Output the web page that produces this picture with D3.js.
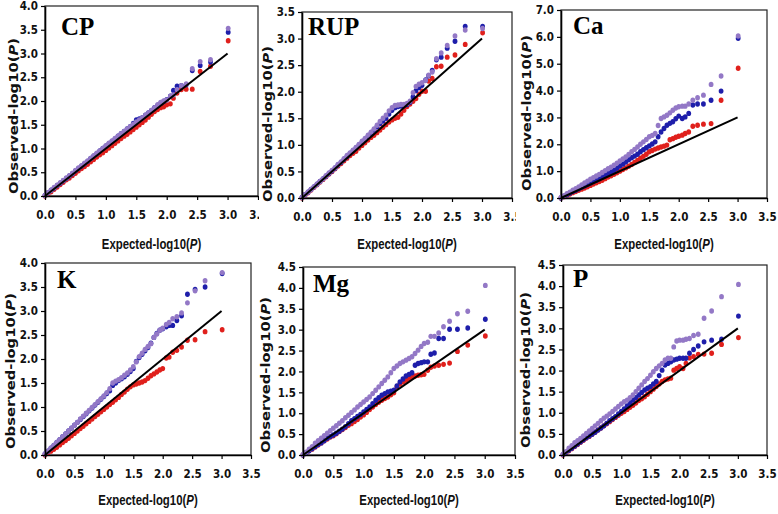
<!DOCTYPE html>
<html>
<head>
<meta charset="utf-8">
<script src="https://cdn.jsdelivr.net/npm/d3@7"></script>
<style>
  body { margin: 0; background: #fff; }
  .tick text { font-family: "Liberation Sans Narrow", "DejaVu Sans Condensed", sans-serif; font-weight: bold; font-size: 11.5px; fill: #111; }
</style>
</head>
<body>
<svg id="chart" width="778" height="514"></svg>
<script>
// expected -log10(P), shared by every panel (dense part then the tail)
var expected = [0.00,0.05,0.10,0.15,0.20,0.25,0.30,0.35,0.40,0.45,
                0.50,0.55,0.60,0.65,0.70,0.75,0.80,0.85,0.90,0.95,
                1.00,1.05,1.10,1.15,1.20,1.25,1.30,1.35,1.40,1.45,
                1.50,1.55,1.60,1.65,1.70,1.75,1.80,1.85,1.90,1.95,
                2.00,2.06,2.11,2.17,2.24,2.32,2.42,2.55,2.72,3.01]
var refLine = [0, 3.0]
var xTicks = [0,0.5,1,1.5,2,2.5,3,3.5]

var cpRed = [0.00,0.04,0.09,0.14,0.19,0.24,0.29,0.34,0.38,0.43,
             0.48,0.53,0.58,0.62,0.67,0.72,0.77,0.82,0.87,0.91,
             0.96,1.01,1.06,1.11,1.16,1.21,1.26,1.30,1.35,1.40,
             1.45,1.50,1.55,1.60,1.66,1.72,1.78,1.82,1.86,1.88,
             1.92,1.94,2.06,2.17,2.24,2.25,2.25,2.62,2.73,3.27]
var cpBlue = [0.01,0.07,0.12,0.17,0.22,0.27,0.32,0.37,0.42,0.47,
              0.53,0.58,0.63,0.68,0.73,0.79,0.84,0.89,0.95,1.00,
              1.05,1.10,1.15,1.20,1.26,1.31,1.36,1.41,1.46,1.53,
              1.60,1.62,1.65,1.70,1.75,1.80,1.86,1.90,1.95,1.99,
              2.03,2.10,2.22,2.31,2.32,2.34,2.64,2.75,2.82,3.45]
var cpPurple = [0.01,0.07,0.12,0.18,0.23,0.28,0.33,0.38,0.43,0.48,
                0.54,0.59,0.64,0.69,0.74,0.79,0.85,0.90,0.95,1.00,
                1.06,1.11,1.16,1.21,1.26,1.31,1.36,1.41,1.46,1.51,
                1.56,1.60,1.65,1.70,1.75,1.80,1.86,1.92,1.97,2.00,
                2.02,2.10,2.13,2.24,2.32,2.36,2.68,2.83,2.87,3.53]

var rupRed = [0.00,0.05,0.10,0.15,0.20,0.25,0.30,0.35,0.40,0.45,
              0.50,0.55,0.60,0.65,0.70,0.75,0.80,0.84,0.88,0.94,
              0.99,1.04,1.09,1.14,1.18,1.23,1.28,1.33,1.38,1.43,
              1.47,1.50,1.52,1.58,1.65,1.72,1.77,1.82,1.87,1.95,
              2.01,2.01,2.20,2.25,2.47,2.48,2.65,2.69,2.89,3.11]
var rupBlue = [0.01,0.06,0.11,0.16,0.21,0.26,0.31,0.36,0.41,0.46,
               0.51,0.56,0.62,0.67,0.73,0.78,0.84,0.89,0.94,1.00,
               1.05,1.10,1.16,1.22,1.28,1.34,1.40,1.45,1.50,1.58,
               1.65,1.70,1.72,1.73,1.74,1.76,1.80,1.90,2.02,2.08,
               2.12,2.22,2.30,2.40,2.60,2.65,2.82,2.95,3.23,3.23]
var rupPurple = [0.01,0.06,0.11,0.16,0.21,0.26,0.31,0.36,0.42,0.47,
                 0.52,0.57,0.63,0.68,0.74,0.80,0.85,0.90,0.95,1.01,
                 1.07,1.12,1.18,1.24,1.30,1.37,1.44,1.50,1.56,1.64,
                 1.70,1.74,1.75,1.76,1.76,1.78,1.82,1.98,2.10,2.14,
                 2.17,2.21,2.31,2.37,2.62,2.73,2.87,3.05,3.16,3.19]

var caRed = [0.00,0.05,0.10,0.15,0.20,0.24,0.29,0.33,0.37,0.42,
             0.47,0.52,0.57,0.61,0.66,0.72,0.78,0.83,0.88,0.94,
             1.00,1.06,1.12,1.18,1.25,1.32,1.40,1.48,1.55,1.63,
             1.72,1.77,1.82,1.86,1.90,1.93,1.97,2.17,2.21,2.26,
             2.30,2.34,2.40,2.46,2.67,2.71,2.75,2.77,3.64,4.83]
var caBlue = [0.00,0.06,0.12,0.18,0.24,0.29,0.34,0.40,0.45,0.50,
              0.56,0.61,0.66,0.72,0.78,0.84,0.91,0.97,1.03,1.11,
              1.19,1.26,1.34,1.42,1.50,1.56,1.63,1.72,1.80,1.87,
              1.94,2.01,2.09,2.28,2.46,2.59,2.71,2.78,2.84,2.95,
              3.05,2.96,3.02,3.15,3.46,3.50,3.50,3.64,3.98,5.95]
var caPurple = [0.02,0.09,0.16,0.22,0.29,0.35,0.41,0.49,0.56,0.63,
                0.70,0.76,0.82,0.88,0.95,1.02,1.09,1.15,1.22,1.30,
                1.38,1.45,1.53,1.62,1.72,1.81,1.90,2.00,2.09,2.18,
                2.28,2.33,2.40,2.70,2.96,3.02,3.08,3.17,3.27,3.35,
                3.40,3.42,3.42,3.50,3.64,3.73,3.83,4.23,4.54,6.03]

var kRed = [0.00,0.04,0.08,0.12,0.16,0.21,0.26,0.30,0.35,0.40,
            0.45,0.50,0.55,0.60,0.65,0.70,0.75,0.80,0.85,0.90,
            0.95,1.00,1.05,1.10,1.15,1.20,1.26,1.31,1.37,1.42,
            1.46,1.48,1.50,1.52,1.55,1.60,1.65,1.69,1.73,1.77,
            1.80,2.02,2.04,2.14,2.18,2.25,2.39,2.40,2.57,2.61]
var kBlue = [0.02,0.08,0.14,0.20,0.26,0.32,0.38,0.44,0.50,0.56,
             0.62,0.68,0.74,0.80,0.86,0.92,0.98,1.04,1.10,1.16,
             1.22,1.28,1.34,1.45,1.50,1.55,1.59,1.63,1.68,1.74,
             1.80,1.95,2.03,2.10,2.17,2.24,2.33,2.45,2.53,2.60,
             2.63,2.67,2.70,2.70,2.80,2.90,3.35,3.45,3.50,3.78]
var kPurple = [0.02,0.08,0.14,0.20,0.26,0.32,0.38,0.44,0.50,0.56,
               0.62,0.68,0.75,0.81,0.87,0.93,0.99,1.05,1.11,1.17,
               1.23,1.30,1.38,1.50,1.54,1.57,1.61,1.66,1.71,1.77,
               1.84,1.94,2.05,2.12,2.20,2.26,2.32,2.45,2.52,2.60,
               2.64,2.72,2.76,2.84,2.88,2.96,3.17,3.42,3.63,3.80]

var mgRed = [0.00,0.05,0.10,0.14,0.19,0.24,0.29,0.34,0.38,0.43,
             0.46,0.51,0.56,0.61,0.66,0.71,0.75,0.80,0.85,0.91,
             0.96,1.02,1.09,1.15,1.21,1.26,1.31,1.35,1.39,1.44,
             1.49,1.63,1.70,1.75,1.79,1.83,1.87,1.89,1.91,1.92,
             1.93,2.03,2.10,2.13,2.15,2.17,2.20,2.48,2.63,2.85]
var mgBlue = [0.00,0.05,0.10,0.15,0.20,0.25,0.29,0.34,0.40,0.44,
              0.48,0.52,0.57,0.62,0.68,0.75,0.82,0.87,0.92,0.97,
              1.03,1.09,1.15,1.23,1.31,1.37,1.43,1.47,1.51,1.53,
              1.55,1.65,1.75,1.82,1.89,1.93,1.97,2.15,2.19,2.21,
              2.23,2.23,2.41,2.44,2.79,2.79,3.01,3.01,3.04,3.25]
var mgPurple = [0.01,0.07,0.14,0.20,0.28,0.34,0.40,0.46,0.52,0.58,
                0.64,0.70,0.76,0.82,0.89,0.95,1.02,1.08,1.15,1.21,
                1.27,1.33,1.39,1.47,1.55,1.63,1.71,1.79,1.87,1.97,
                2.07,2.13,2.19,2.23,2.27,2.31,2.35,2.43,2.51,2.60,
                2.67,2.70,2.84,2.84,2.92,3.07,3.20,3.38,3.44,4.06]

var pRed = [0.00,0.05,0.10,0.15,0.20,0.25,0.30,0.35,0.40,0.44,
            0.49,0.54,0.59,0.64,0.69,0.74,0.79,0.84,0.89,0.94,
            0.99,1.03,1.08,1.13,1.18,1.23,1.29,1.33,1.38,1.44,
            1.50,1.56,1.62,1.68,1.74,1.78,1.80,1.82,2.01,2.05,
            2.09,2.05,2.17,2.30,2.33,2.38,2.39,2.41,2.62,2.78]
var pBlue = [0.01,0.06,0.11,0.16,0.21,0.26,0.31,0.36,0.41,0.45,
             0.49,0.54,0.59,0.64,0.69,0.75,0.81,0.86,0.91,0.97,
             1.03,1.09,1.16,1.23,1.30,1.36,1.42,1.48,1.54,1.58,
             1.62,1.68,1.74,1.88,2.01,2.13,2.17,2.21,2.25,2.27,
             2.29,2.29,2.29,2.41,2.50,2.58,2.68,2.72,2.74,3.29]
var pPurple = [0.02,0.08,0.16,0.22,0.29,0.34,0.39,0.45,0.51,0.57,
               0.63,0.69,0.75,0.81,0.87,0.92,0.97,1.03,1.09,1.15,
               1.21,1.26,1.30,1.36,1.42,1.50,1.58,1.66,1.74,1.81,
               1.89,1.97,2.05,2.11,2.17,2.25,2.29,2.29,2.56,2.70,
               2.72,2.72,2.74,2.76,2.83,2.86,3.24,3.41,3.75,4.04]

var yTicks40 = [0,0.5,1,1.5,2,2.5,3,3.5,4]
var yTicks35 = [0,0.5,1,1.5,2,2.5,3,3.5]
var yTicks70 = [0,1,2,3,4,5,6,7]
var yTicks45 = [0,0.5,1,1.5,2,2.5,3,3.5,4,4.5]

var colors = {red: "#e0201c", blue: "#1e1eaa", purple: "#9378c6"}

// PANEL LAYOUT
var panels = [
  {name: "CP",  ticks: yTicks40, red: cpRed,  blue: cpBlue,  purple: cpPurple,  left: 45,  right: 258, top: 6,   bottom: 196, lx: 61,  ly: 35,  tx: 13,  ty: 116, xty: 243, clip: 259},
  {name: "RUP", ticks: yTicks35, red: rupRed, blue: rupBlue, purple: rupPurple, left: 302, right: 512, top: 12,  bottom: 198, lx: 308, ly: 35,  tx: 267, ty: 124, xty: 243, clip: 516},
  {name: "Ca",  ticks: yTicks70, red: caRed,  blue: caBlue,  purple: caPurple,  left: 561, right: 767, top: 10,  bottom: 198, lx: 573, ly: 34,  tx: 526, ty: 113, xty: 243, clip: 778},
  {name: "K",   ticks: yTicks40, red: kRed,   blue: kBlue,   purple: kPurple,   left: 45,  right: 251, top: 263, bottom: 455, lx: 57,  ly: 288, tx: 10,  ty: 371, xty: 499, clip: 778},
  {name: "Mg",  ticks: yTicks45, red: mgRed,  blue: mgBlue,  purple: mgPurple,  left: 303, right: 515, top: 267, bottom: 455, lx: 313, ly: 292, tx: 265, ty: 375, xty: 499, clip: 778},
  {name: "P",   ticks: yTicks45, red: pRed,   blue: pBlue,   purple: pPurple,   left: 563, right: 767, top: 265, bottom: 455, lx: 573, ly: 287, tx: 525, ty: 370, xty: 499, clip: 778}
]

var svg = d3.select("#chart")
svg.append("rect").attr("width", 778).attr("height", 514).attr("fill", "#fff")

panels.forEach(function(p, i){
  var clipId = "clip" + i
  svg.append("clipPath").attr("id", clipId)
    .append("rect").attr("x", 0).attr("y", 0).attr("width", p.clip).attr("height", 514)

  var g = svg.append("g").attr("clip-path", "url(#" + clipId + ")")

  var x = d3.scaleLinear().domain([0, 3.5]).range([p.left, p.right])
  var y = d3.scaleLinear().domain([0, d3.max(p.ticks)]).range([p.bottom, p.top])

  // plot area box
  g.append("rect")
    .attr("x", p.left).attr("y", p.top)
    .attr("width", p.right - p.left).attr("height", p.bottom - p.top)
    .attr("fill", "none").attr("stroke", "#222").attr("stroke-width", 1.2)

  // points: red, blue, then purple on top
  ;["red", "blue", "purple"].forEach(function(s){
    g.append("g").selectAll("ellipse")
      .data(p[s].map(function(v, k){ return {x: expected[k], y: v} }))
      .enter().append("ellipse")
      .attr("cx", function(d){ return x(d.x) })
      .attr("cy", function(d){ return y(d.y) })
      .attr("rx", 2.4).attr("ry", 2.7)
      .attr("fill", colors[s])
  })

  // y = x reference line
  g.append("line")
    .attr("x1", x(refLine[0])).attr("y1", y(refLine[0]))
    .attr("x2", x(refLine[1])).attr("y2", y(refLine[1]))
    .attr("stroke", "#000").attr("stroke-width", 2)

  // axes
  var fmt = d3.format(".1f")
  var ya = g.append("g").attr("transform", "translate(" + p.left + ",0)")
    .call(d3.axisLeft(y).tickValues(p.ticks).tickFormat(fmt).tickSize(4).tickSizeOuter(0).tickPadding(3))
  var xa = g.append("g").attr("transform", "translate(0," + p.bottom + ")")
    .call(d3.axisBottom(x).tickValues(xTicks).tickFormat(fmt).tickSize(4).tickSizeOuter(0).tickPadding(11))
  ;[ya, xa].forEach(function(a){
    a.select(".domain").attr("stroke", "#000").attr("stroke-width", 1.6)
    a.selectAll(".tick line").attr("stroke", "#000").attr("stroke-width", 1.2)
  })

  // panel name
  g.append("text")
    .attr("x", p.lx).attr("y", p.ly)
    .style("font-family", "'Liberation Serif', 'Times New Roman', serif")
    .style("font-weight", "bold").style("font-size", "25px")
    .text(p.name)

  // y title (stretched along its length, like the wide original face)
  var yt = g.append("text")
    .attr("transform", "translate(" + p.tx + "," + p.ty + ") rotate(-90) scale(1.18,1)")
    .attr("text-anchor", "middle").attr("dominant-baseline", "central")
    .style("font-family", "'DejaVu Sans', Verdana, sans-serif")
    .style("font-weight", "bold").style("font-size", "12.5px").style("fill", "#111")
  yt.append("tspan").text("Observed-log10(")
  yt.append("tspan").style("font-style", "italic").text("P")
  yt.append("tspan").text(")")

  // x title (narrowed, like the condensed original face)
  var xt = g.append("text")
    .attr("transform", "translate(" + ((p.left + p.right) / 2) + "," + p.xty + ") scale(0.76,1)")
    .attr("text-anchor", "middle").attr("dominant-baseline", "central")
    .style("font-family", "'Liberation Sans', Arial, sans-serif")
    .style("font-weight", "bold").style("font-size", "15px").style("fill", "#111")
  xt.append("tspan").text("Expected-log10(")
  xt.append("tspan").style("font-style", "italic").text("P")
  xt.append("tspan").text(")")
})
</script>
</body>
</html>
